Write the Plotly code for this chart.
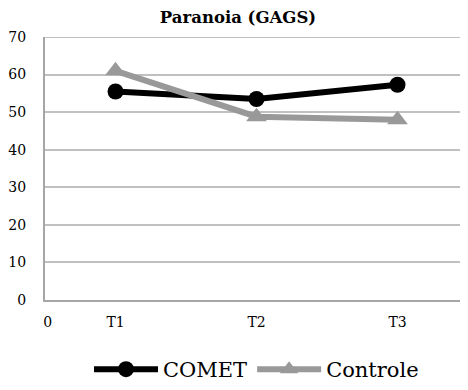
import plotly.graph_objects as go

categories = ["T1", "T2", "T3"]
x_pos = [1, 2, 3]
comet = [55.5, 53.5, 57.3]
controle = [61.0, 48.8, 48.0]
y_ticks = [0, 10, 20, 30, 40, 50, 60, 70]
x_tickvals = [0.52, 1, 2, 3]
x_ticktext = ["0", "T1", "T2", "T3"]

FONT = "DejaVu Serif"

fig = go.Figure()
fig.add_trace(go.Scatter(
    x=x_pos, y=comet, name="COMET", mode="lines+markers",
    line=dict(color="black", width=6),
    marker=dict(symbol="circle", size=16, color="black"),
))
fig.add_trace(go.Scatter(
    x=x_pos, y=controle, name="Controle", mode="lines+markers",
    line=dict(color="#999999", width=6),
    marker=dict(symbol="triangle-up", size=18, color="#999999"),
))

fig.update_layout(
    width=460, height=382,
    margin=dict(l=31, r=0, t=29, b=90),
    paper_bgcolor="white", plot_bgcolor="white",
    font=dict(family=FONT, size=14, color="black"),
    title=dict(text="<b>Paranoia (GAGS)</b>", x=0.5, xanchor="center",
               y=0.976, yanchor="middle", font=dict(family=FONT, size=16.5, color="black")),
    showlegend=True,
    legend=dict(orientation="h", x=0.5, xanchor="center", yref="container",
                y=-0.045, yanchor="bottom",
                font=dict(family=FONT, size=21, color="black"), itemwidth=64),
    xaxis=dict(range=[0.5, 3.5], tickvals=x_tickvals, ticktext=x_ticktext,
               showgrid=False, zeroline=False, showline=True, linecolor="#a6a6a6",
               linewidth=2, ticks="outside", ticklen=8, tickcolor="rgba(0,0,0,0)",
               fixedrange=True),
    yaxis=dict(range=[0, 70], tickvals=y_ticks, showgrid=True, gridcolor="#c0c0c0",
               gridwidth=2, zeroline=False, showline=True, linecolor="#a6a6a6",
               linewidth=2, ticks="", ticklabelstandoff=14),
)
fig.add_shape(type="line", xref="paper", yref="y", x0=0, x1=1, y0=70, y1=70,
              line=dict(color="#c0c0c0", width=2))

fig.write_html("out.html")
